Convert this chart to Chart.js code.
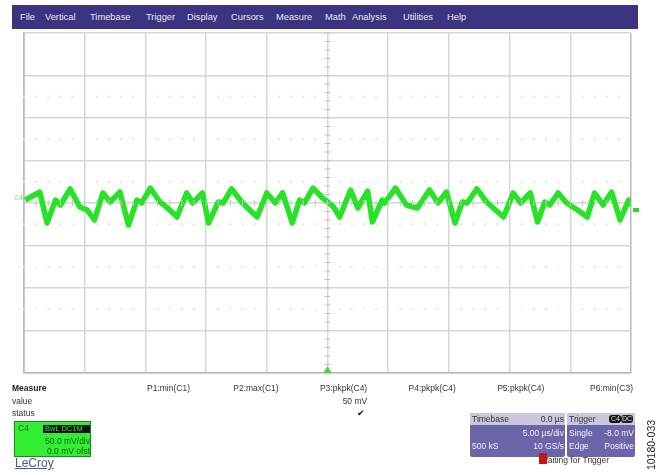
<!DOCTYPE html>
<html>
<head>
<meta charset="utf-8">
<script src="https://cdn.jsdelivr.net/npm/chart.js@4.4.1/dist/chart.umd.min.js"></script>
<style>
	body { margin: 0; background: #fff; }
	#wrap { position: relative; width: 669px; height: 475px; overflow: hidden; font-family: "Liberation Sans", Arial, sans-serif; }
	#wrap canvas { position: absolute; left: 0; top: 0; }
	.t { position: absolute; white-space: nowrap; font-size: 8.5px; line-height: 10px; color: #333; }
	#menu { position: absolute; left: 12px; top: 5px; width: 626px; height: 24px; background: #3b3480; }
	#menu span { position: absolute; top: 7px; color: #e8e8f4; font-size: 9.3px; line-height: 10px; }
	.box { position: absolute; }
</style>
</head>
<body>
<div id="wrap">
	<canvas id="scope" width="669" height="475"></canvas>
	<div id="menu"></div>
	<div id="overlay"></div>
</div>
<script>
// waveform: time in us, voltage in mV (C4, 50 mV/div, 5 us/div)
const timeUs = [-24.9, -23.7, -23.1, -22.4, -22.0, -21.2, -20.4, -19.8, -19.2, -18.5, -17.9, -17.1, -16.4, -15.7, -15.3, -14.6, -13.8, -13.0, -12.4, -11.6, -11.1, -10.3, -9.8, -9.0, -8.6, -7.9, -7.0, -5.8, -5.0, -4.3, -3.7, -2.9, -2.3, -1.9, -1.2, -0.4, 0.5, 1.0, 1.9, 2.5, 3.3, 3.7, 4.5, 4.7, 5.6, 6.5, 7.4, 8.4, 9.1, 9.8, 10.5, 11.1, 11.5, 12.3, 13.1, 14.5, 15.3, 15.9, 16.7, 17.3, 17.9, 18.3, 19.0, 19.7, 20.6, 21.4, 22.0, 22.7, 23.4, 24.1, 24.8, 25.0]
const traceMv = [3.5, 12.9, -23.5, 3.5, -2.4, 16.5, -4.7, -8.2, -20.0, 11.8, 1.2, 12.9, -25.9, 3.5, 0, 17.6, 1.2, -8.2, -16.5, 11.8, 0, 11.8, -23.5, 1.2, 0, 16.5, 0, -16.5, 11.8, 0, 11.8, -23.5, 3.5, 0, 17.6, 5.9, -4.7, -16.5, 15.3, -5.9, 14.1, -22.3, 3.5, 0, 17.6, -2.4, -5.9, 15.3, 0, 12.9, -23.5, 1.2, 0, 16.5, 1.2, -16.5, 11.8, 0, 11.8, -22.3, 1.2, -2.4, 11.8, 0, -8.2, -16.5, 11.8, -2.4, 12.9, -20.0, 3.5, -3.5]

const menuLabels = ["File", "Vertical", "Timebase", "Trigger", "Display", "Cursors", "Measure", "Math", "Analysis", "Utilities", "Help"]
const paramLabels = ["P1:min(C1)", "P2:max(C1)", "P3:pkpk(C4)", "P4:pkpk(C4)", "P5:pkpk(C4)", "P6:min(C3)"]
const paramValues = ["", "", "50 mV", "", "", ""]
const paramStatus = ["", "", "\u2714", "", "", ""]

const timePerDiv = 5
const voltsPerDiv = 50

const menuX = [8, 33, 78, 134, 175, 219, 264, 313, 340, 391, 435]
const menu = document.getElementById("menu")
menuLabels.forEach((label, i) => {
	const span = document.createElement("span")
	span.textContent = label
	span.style.left = menuX[i] + "px"
	menu.appendChild(span)
})

const overlay = document.getElementById("overlay")
function text(str, left, top, style) {
	const div = document.createElement("div")
	div.className = "t"
	div.textContent = str
	div.style.left = left + "px"
	div.style.top = top + "px"
	if (style) div.style.cssText += style
	overlay.appendChild(div)
	return div
}
function rtext(str, right, top, style) {
	const div = text(str, 0, top, style)
	div.style.left = ""
	div.style.right = (669 - right) + "px"
	return div
}
function box(left, top, w, h, style) {
	const div = document.createElement("div")
	div.className = "box"
	div.style.cssText = "left:" + left + "px;top:" + top + "px;width:" + w + "px;height:" + h + "px;" + style
	overlay.appendChild(div)
	return div
}

text("Measure", 12, 383, "font-weight:bold;color:#222")
text("value", 12, 396)
text("status", 12, 408)
paramLabels.forEach((label, i) => {
	const right = 190 + i * 88.6
	rtext(label, right, 383)
	if (paramValues[i]) rtext(paramValues[i], right, 396)
	if (paramStatus[i]) rtext(paramStatus[i], right - 2, 408, "color:#111")
})

// channel descriptor
box(14, 421, 75, 34, "background:#33ee33;border:1px solid #1c8a1c")
text("C4", 18, 423, "color:#2a6a2a")
box(43, 425, 47, 8, "background:#111")
text("BwL DC1M", 45, 424, "color:#3ae03a;font-size:7.5px")
rtext("50.0 mV/div", 90, 436, "color:#1a5a1a")
rtext("0.0 mV ofst", 90, 446, "color:#1a5a1a")
text("LeCroy", 15, 457, "font-size:12px;line-height:13px;color:#4b5a7c;text-decoration:underline")

// timebase descriptor
box(470, 413, 95, 44, "background:#6a66a8;border-radius:2px")
box(470, 413, 95, 12, "background:#c9c7dc;border-radius:2px 2px 0 0")
text("Timebase", 472, 414, "color:#333")
rtext("0.0 \u00b5s", 564, 414, "color:#333")
rtext("5.00 \u00b5s/div", 564, 428, "color:#eeeef8")
text("500 kS", 472, 441, "color:#eeeef8")
rtext("10 GS/s", 564, 441, "color:#eeeef8")

// trigger descriptor
box(567, 413, 68, 44, "background:#6a66a8;border-radius:2px")
box(567, 413, 68, 12, "background:#c9c7dc;border-radius:2px 2px 0 0")
text("Trigger", 569, 414, "color:#333")
box(609, 415, 12, 8, "background:#111;border-radius:3px")
box(621, 415, 12, 8, "background:#222;border-radius:3px")
text("C4", 611, 414, "color:#ddd;font-size:7px")
text("DC", 622, 414, "color:#ddd;font-size:7px")
text("Single", 569, 428, "color:#eeeef8")
rtext("-8.0 mV", 634, 428, "color:#eeeef8")
text("Edge", 569, 441, "color:#eeeef8")
rtext("Positive", 634, 441, "color:#eeeef8")

text("Waiting for Trigger", 540, 455, "color:#333")
box(539, 453, 8, 11, "background:#c81414")

text("10180-033", 626, 439, "font-size:10.5px;line-height:12px;color:#222;transform:rotate(-90deg);transform-origin:center")

// center graticule ticks, faint mid-row dots, channel label and trigger marker
const scopeMarks = {
	id: "scopeMarks",
	beforeDatasetsDraw(chart) {
		const { ctx, scales } = chart
		const x = scales.x
		const y = scales.y
		ctx.save()
		ctx.fillStyle = "#e4e4e4"
		for (let v = y.min + voltsPerDiv / 2; v < y.max; v += voltsPerDiv) {
			if (Math.abs(v) > 3 * voltsPerDiv) continue
			const py = y.getPixelForValue(v)
			for (let t = x.min; t < x.max; t += timePerDiv / 5) {
				ctx.fillRect(x.getPixelForValue(t) - 1, py - 1, 2, 2)
			}
		}
		ctx.restore()
	},
	afterDraw(chart) {
		const { ctx, scales } = chart
		const x = scales.x
		const y = scales.y
		const cx = x.getPixelForValue(0)
		const cy = y.getPixelForValue(0)
		ctx.save()
		ctx.strokeStyle = "#c4c4c4"
		ctx.lineWidth = 1
		for (let t = x.min; t <= x.max + 0.001; t += timePerDiv / 5) {
			const px = x.getPixelForValue(t)
			ctx.beginPath()
			ctx.moveTo(px, cy - 3)
			ctx.lineTo(px, cy + 3)
			ctx.stroke()
		}
		for (let v = y.min; v <= y.max + 0.001; v += voltsPerDiv / 5) {
			const py = y.getPixelForValue(v)
			ctx.beginPath()
			ctx.moveTo(cx - 3, py)
			ctx.lineTo(cx + 3, py)
			ctx.stroke()
		}
		// trigger marker at bottom
		ctx.fillStyle = "#3bd83b"
		ctx.beginPath()
		ctx.moveTo(cx, y.bottom - 7)
		ctx.lineTo(cx - 4, y.bottom)
		ctx.lineTo(cx + 4, y.bottom)
		ctx.closePath()
		ctx.fill()
		// channel label at trace ground level
		ctx.fillStyle = "#8fbf8f"
		ctx.font = "7px 'Liberation Sans', Arial"
		ctx.textBaseline = "middle"
		ctx.fillText("C4", x.left - 10, cy - 5)
		// trace end marker
		ctx.fillStyle = "#22e022"
		ctx.fillRect(x.right + 2, cy + 5, 6, 4)
		ctx.restore()
	}
}

new Chart(document.getElementById("scope"), {
	type: "line",
	data: {
		datasets: [{
			data: timeUs.map((t, i) => ({ x: t, y: traceMv[i] })),
			borderColor: "#26e326",
			borderWidth: 5.5,
			pointRadius: 0,
			tension: 0,
			borderJoinStyle: "round",
		}],
	},
	options: {
		responsive: false,
		animation: false,
		layout: { padding: { left: 24, top: 33, right: 38, bottom: 102 } },
		plugins: { legend: { display: false }, tooltip: { enabled: false } },
		scales: {
			x: {
				type: "linear",
				min: -5 * timePerDiv,
				max: 5 * timePerDiv,
				ticks: { display: false, stepSize: timePerDiv },
				grid: { color: (c) => (c.index === 0 || c.index === 10) ? "#b8b8b8" : "#d6d6d6", lineWidth: 1.5, drawTicks: false },
				border: { color: "#b8b8b8", width: 1.5 },
			},
			y: {
				min: -4 * voltsPerDiv,
				max: 4 * voltsPerDiv,
				ticks: { display: false, stepSize: voltsPerDiv },
				grid: { color: "#d6d6d6", lineWidth: 1.5, drawTicks: false },
				border: { color: "#b8b8b8", width: 1.5 },
			},
		},
	},
	plugins: [scopeMarks],
})
</script>
</body>
</html>
